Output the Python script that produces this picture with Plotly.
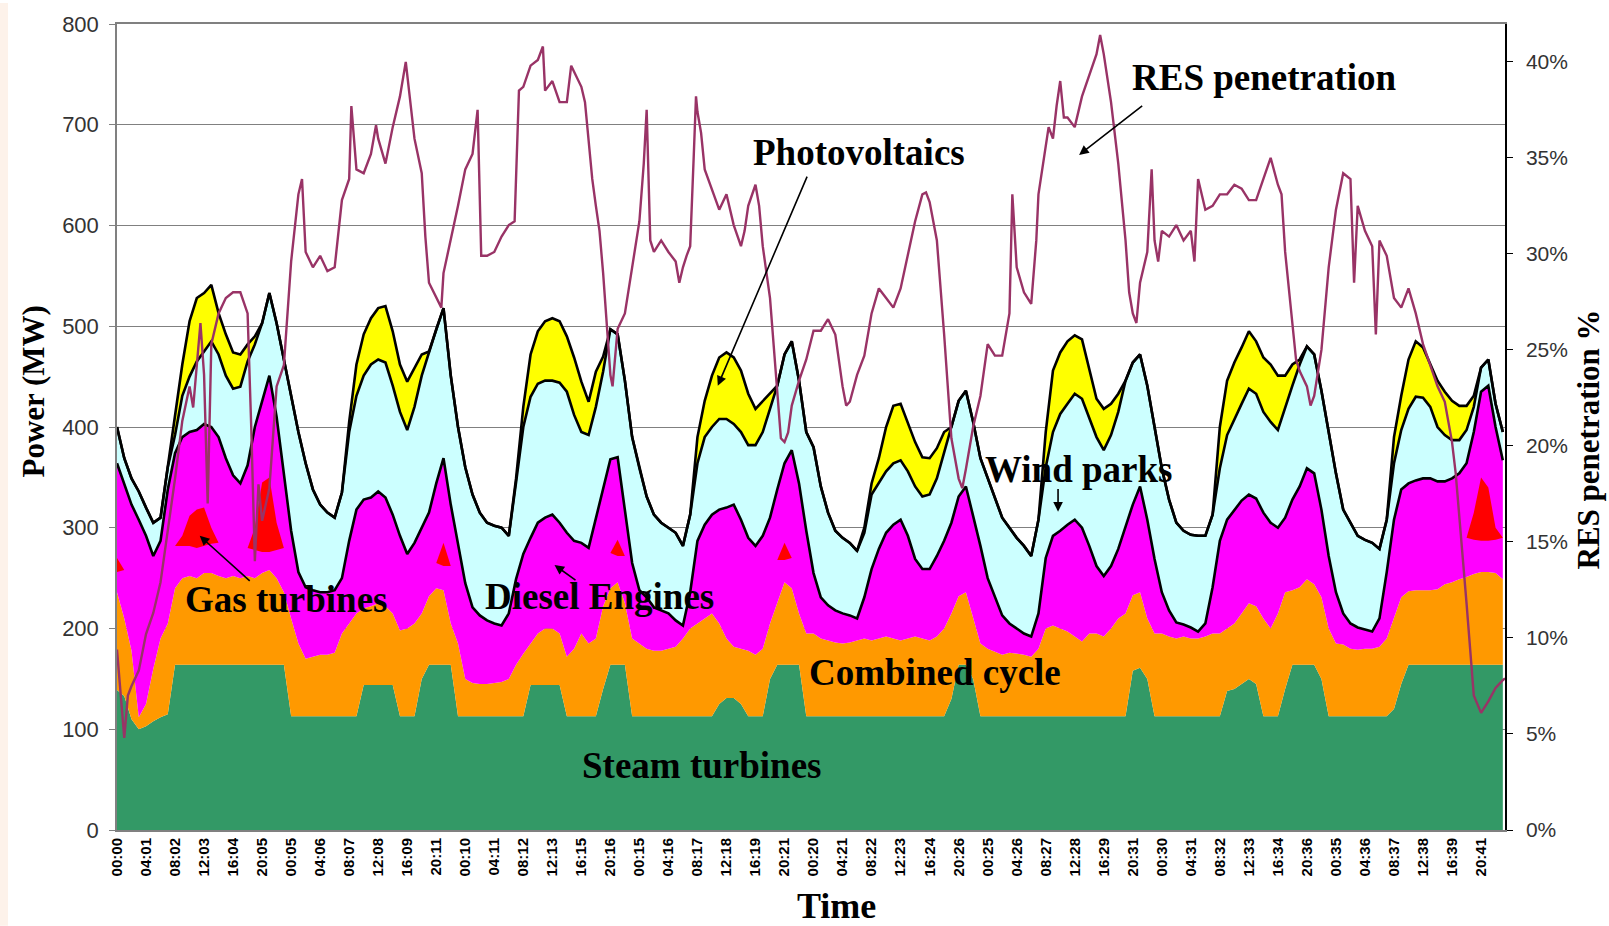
import plotly.graph_objects as go

# ---- time axis (hours from start, hourly samples) ----
hours = list(range(192))
tick_hours = list(range(0, 189, 4))
tick_labels = ["00:00", "04:01", "08:02", "12:03", "16:04", "20:05", "00:05", "04:06",
               "08:07", "12:08", "16:09", "20:11", "00:10", "04:11", "08:12", "12:13",
               "16:15", "20:16", "00:15", "04:16", "08:17", "12:18", "16:19", "20:21",
               "00:20", "04:21", "08:22", "12:23", "16:24", "20:26", "00:25", "04:26",
               "08:27", "12:28", "16:29", "20:31", "00:30", "04:31", "08:32", "12:33",
               "16:34", "20:36", "00:35", "04:36", "08:37", "12:38", "16:39", "20:41"]

# ---- cumulative generation levels (MW), top edge of each layer ----
steam_top = [
    139, 133, 110, 100, 103, 108, 112, 115, 164, 164, 164, 164, 164, 164, 164, 164, 164, 164, 164, 164, 164, 164, 164, 164,
    113, 113, 113, 113, 113, 113, 113, 113, 113, 113, 144, 144, 144, 144, 144, 113, 113, 113, 150, 164, 164, 164, 164, 113,
    113, 113, 113, 113, 113, 113, 113, 113, 113, 144, 144, 144, 144, 144, 113, 113, 113, 113, 113, 140, 164, 164, 164, 113,
    113, 113, 113, 113, 113, 113, 113, 113, 113, 113, 113, 125, 131, 131, 125, 113, 113, 113, 150, 164, 164, 164, 164, 113,
    113, 113, 113, 113, 113, 113, 113, 113, 113, 113, 113, 113, 113, 113, 113, 113, 113, 113, 113, 130, 164, 164, 150, 113,
    113, 113, 113, 113, 113, 113, 113, 113, 113, 113, 113, 113, 113, 113, 113, 113, 113, 113, 113, 113, 158, 161, 150, 113,
    113, 113, 113, 113, 113, 113, 113, 113, 113, 138, 140, 145, 150, 145, 113, 113, 113, 140, 164, 164, 164, 164, 150, 113,
    113, 113, 113, 113, 113, 113, 113, 113, 120, 145, 164, 164, 164, 164, 164, 164, 164, 164, 164, 164, 164, 164, 164, 164]

cc_top = [
    236, 210, 178, 112, 125, 160, 190, 205, 240, 250, 252, 250, 255, 255, 252, 250, 252, 250, 252, 250, 255, 258, 250, 236,
    210, 185, 170, 172, 174, 174, 176, 195, 205, 215, 220, 222, 225, 222, 215, 198, 200, 205, 215, 232, 240, 238, 205, 185,
    150, 146, 145, 145, 146, 147, 150, 164, 175, 185, 195, 200, 200, 195, 172, 180, 195, 185, 190, 222, 240, 246, 225, 190,
    185, 180, 178, 178, 180, 182, 190, 200, 205, 210, 215, 205, 190, 182, 180, 178, 174, 180, 205, 226, 246, 240, 215, 195,
    195, 190, 188, 186, 185, 186, 188, 190, 188, 190, 192, 190, 188, 190, 192, 190, 188, 192, 200, 215, 232, 236, 210, 185,
    180, 177, 174, 176, 175, 174, 172, 180, 200, 203, 200, 197, 192, 187, 195, 195, 192, 200, 210, 215, 233, 236, 210, 195,
    195, 192, 190, 192, 190, 190, 192, 195, 195, 200, 205, 215, 225, 222, 210, 200, 215, 236, 238, 241, 249, 244, 231, 200,
    185, 184, 180, 179, 180, 180, 182, 190, 210, 231, 237, 238, 238, 238, 239, 244, 246, 249, 251, 254, 256, 256, 255, 249]

diesel_top = [
    364, 344, 323, 308, 292, 272, 287, 338, 374, 390, 395, 397, 403, 400, 390, 369, 352, 344, 362, 400, 426, 451, 410, 354,
    297, 256, 241, 238, 236, 236, 238, 250, 287, 318, 328, 330, 336, 330, 313, 292, 274, 285, 300, 315, 344, 369, 323, 285,
    245, 221, 213, 208, 205, 203, 215, 249, 274, 290, 305, 310, 313, 305, 295, 287, 285, 280, 310, 340, 368, 370, 320, 265,
    238, 231, 221, 218, 215, 208, 203, 236, 287, 303, 313, 318, 320, 323, 308, 290, 282, 292, 310, 338, 364, 377, 344, 297,
    255, 231, 223, 218, 215, 213, 210, 231, 259, 279, 295, 303, 308, 292, 269, 259, 259, 272, 287, 305, 331, 341, 313, 282,
    250, 231, 213, 205, 200, 195, 192, 215, 270, 292, 297, 303, 308, 300, 282, 262, 252, 262, 279, 300, 323, 341, 308, 269,
    236, 218, 206, 204, 201, 197, 205, 241, 287, 308, 318, 327, 333, 329, 315, 305, 300, 310, 328, 341, 359, 354, 318, 272,
    236, 215, 205, 201, 199, 197, 210, 256, 308, 338, 344, 347, 349, 349, 346, 346, 349, 354, 364, 395, 435, 441, 400, 367]

wind_top = [
    400, 369, 349, 336, 320, 305, 310, 360, 392, 431, 450, 465, 475, 485, 472, 451, 438, 440, 465, 482, 503, 533, 503, 467,
    431, 395, 364, 338, 323, 315, 310, 335, 395, 431, 451, 462, 467, 464, 441, 415, 397, 420, 451, 475, 497, 518, 451, 400,
    360, 333, 315, 305, 302, 300, 292, 345, 400, 430, 443, 446, 446, 444, 435, 412, 395, 392, 420, 455, 497, 492, 446, 390,
    359, 331, 313, 305, 300, 295, 282, 313, 364, 390, 400, 408, 408, 403, 395, 382, 382, 395, 418, 441, 472, 485, 446, 395,
    380, 341, 315, 297, 290, 285, 277, 295, 333, 344, 356, 364, 367, 356, 341, 331, 333, 349, 374, 400, 426, 436, 405, 369,
    349, 331, 310, 300, 290, 282, 272, 308, 360, 395, 413, 423, 433, 428, 410, 390, 377, 392, 415, 446, 464, 472, 441, 400,
    359, 328, 305, 297, 293, 292, 292, 313, 359, 392, 408, 423, 438, 433, 415, 405, 397, 420, 441, 462, 480, 472, 436, 395,
    354, 318, 305, 292, 288, 285, 279, 308, 364, 397, 418, 430, 429, 420, 400, 392, 387, 387, 397, 420, 459, 467, 423, 395]

pv_top = [
    400, 369, 349, 336, 320, 305, 310, 360, 410, 462, 505, 528, 533, 541, 513, 492, 474, 472, 482, 490, 503, 533, 503, 467,
    431, 395, 364, 338, 323, 315, 310, 335, 405, 462, 492, 508, 518, 520, 495, 462, 445, 459, 472, 475, 497, 518, 451, 400,
    360, 333, 315, 305, 302, 300, 292, 349, 420, 472, 495, 505, 508, 505, 490, 469, 445, 425, 455, 470, 497, 492, 446, 390,
    359, 331, 313, 305, 300, 295, 282, 313, 390, 426, 451, 469, 474, 469, 456, 433, 418, 426, 433, 441, 472, 485, 446, 395,
    380, 341, 315, 297, 290, 285, 277, 300, 344, 369, 400, 421, 423, 405, 385, 370, 369, 379, 395, 400, 426, 436, 405, 369,
    349, 331, 310, 300, 290, 282, 272, 308, 395, 456, 474, 485, 491, 487, 456, 428, 418, 423, 433, 446, 464, 472, 441, 400,
    359, 328, 305, 297, 293, 292, 292, 313, 400, 446, 464, 479, 495, 485, 469, 462, 451, 451, 462, 467, 480, 472, 436, 395,
    354, 318, 305, 292, 288, 285, 279, 308, 390, 431, 467, 485, 479, 462, 446, 435, 426, 421, 421, 431, 459, 467, 423, 395]

# gas turbine output, drawn as a band inside the diesel layer (MW levels)
gas_hours = [0, 1, 8, 9, 10, 11, 12, 13, 14, 18, 19, 20, 21, 22, 23, 44, 45, 46,
             68, 69, 70, 91, 92, 93, 186, 187, 188, 189, 190, 191]
gas_low = [256, 258, 282, 282, 282, 280, 282, 284, 285, 280, 278, 276, 276, 278, 280, 265, 262, 262,
           275, 272, 272, 268, 268, 270, 290, 288, 287, 287, 288, 290]
gas_high = [270, 258, 282, 292, 312, 318, 320, 300, 285, 280, 300, 345, 350, 305, 280, 265, 285, 262,
            275, 288, 272, 268, 285, 270, 290, 315, 350, 340, 300, 290]

# ---- RES penetration (%) ----
res_hours = [0, 0.5, 1, 1.5, 2, 3, 4, 5, 6, 7, 8, 9, 10, 10.5, 11, 11.5, 12, 12.5, 13, 14, 15, 16, 17, 18,
             18.5, 19, 19.5, 20, 21, 22, 23, 24, 25, 25.5, 26, 27, 28, 29, 30, 31, 32, 32.3, 33, 34, 35,
             35.7, 36, 37, 38, 38.7, 39, 39.8, 40, 40.5, 41, 42, 42.5, 43, 44, 44.7, 45, 46, 47, 48, 49,
             49.7, 50.2, 51, 52, 53, 54, 54.8, 55.4, 56, 57, 58, 58.7, 59, 60, 61, 62, 62.6, 63, 64, 64.5,
             65, 65.5, 66, 66.5, 67, 67.5, 68, 68.3, 69, 70, 70.5, 71, 72, 72.6, 73, 73.5, 74, 75, 76, 77,
             77.5, 78, 78.5, 79, 79.5, 79.8, 80, 80.5, 81, 82, 83, 84, 85, 86, 86.5, 87, 88, 88.5, 89, 90,
             90.5, 91, 91.5, 92, 92.5, 93, 94, 95, 96, 97, 98, 99, 100, 100.5, 101, 102, 103, 104, 105,
             106, 107, 108, 109, 110, 111, 111.5, 112, 113, 114, 115, 116, 116.5, 117, 118, 119, 120, 121,
             122, 123, 123.4, 124, 125, 126, 126.7, 127, 128, 128.4, 129, 129.5, 130, 130.5, 131, 132, 133,
             134, 135, 135.5, 136, 137, 138, 139, 139.5, 140, 140.5, 141, 142, 142.6, 143, 143.5, 144, 145,
             146, 147, 148, 148.5, 149, 150, 151, 152, 153, 154, 155, 156, 157, 158, 159, 160, 160.5, 161,
             162, 162.5, 163, 164, 164.5, 165, 166, 167, 168, 169, 170, 170.5, 171, 172, 173, 173.5, 174,
             175, 176, 177, 178, 179, 180, 181, 182, 183, 184, 184.5, 185, 186, 187, 188, 189, 190, 191, 191.3]
res_pct = [9.4, 7.3, 4.8, 7.0, 7.5, 8.3, 10.2, 11.3, 12.9, 15.6, 18.3, 21.3, 23.1, 22.0, 24.2, 26.4, 23.7, 17.0,
           25.3, 26.9, 27.7, 28.0, 28.0, 26.9, 21.0, 14.0, 18.0, 16.1, 17.8, 23.1, 24.2, 29.6, 33.1, 33.9, 30.1,
           29.3, 29.9, 29.1, 29.3, 32.8, 33.9, 37.7, 34.4, 34.2, 35.2, 36.7, 36.0, 34.7, 36.6, 37.7, 38.2, 40.0,
           39.3, 37.9, 36.0, 34.2, 30.9, 28.5, 27.7, 27.2, 29.0, 30.7, 32.5, 34.4, 35.2, 37.5, 29.9, 29.9, 30.1,
           30.9, 31.5, 31.7, 38.5, 38.7, 39.8, 40.1, 40.8, 38.5, 39.0, 37.9, 37.9, 39.8, 39.5, 38.7, 37.9, 36.0,
           33.9, 32.5, 31.2, 29.0, 26.4, 23.7, 23.1, 26.1, 26.9, 28.0, 29.3, 31.7, 34.7, 37.5, 30.7, 30.1, 30.7,
           30.1, 29.6, 28.5, 29.3, 29.9, 30.4, 35.2, 38.2, 37.4, 36.3, 34.4, 33.4, 32.3, 33.1, 31.5, 30.4, 31.2,
           32.5, 33.6, 32.5, 30.4, 27.7, 25.3, 22.6, 20.4, 20.2, 20.7, 22.1, 23.4, 24.5, 26.0, 26.0, 26.6, 25.8,
           23.1, 22.1, 22.3, 23.7, 24.7, 26.9, 28.2, 27.7, 27.2, 28.2, 29.9, 31.7, 33.1, 33.2, 32.7, 30.7, 25.8,
           20.4, 18.3, 17.8, 18.8, 21.0, 22.6, 25.3, 24.7, 24.7, 26.9, 33.1, 29.3, 28.0, 27.4, 30.7, 33.1, 35.5,
           36.6, 36.0, 37.7, 39.0, 37.1, 37.1, 36.6, 38.2, 39.3, 40.4, 41.4, 40.4, 37.9, 34.7, 30.7, 28.0, 26.9,
           26.4, 28.5, 30.1, 34.4, 30.7, 29.6, 31.2, 30.9, 31.5, 30.7, 31.2, 29.6, 33.9, 32.3, 32.5, 33.1, 33.1,
           33.6, 33.4, 32.8, 32.8, 33.9, 35.0, 33.6, 33.1, 30.1, 26.4, 24.5, 23.9, 23.1, 22.1, 22.6, 25.0, 29.3,
           32.3, 34.2, 33.9, 28.5, 32.5, 31.2, 30.4, 25.8, 30.7, 29.9, 27.7, 27.2, 28.2, 26.9, 25.3, 24.2, 23.1,
           22.3, 20.2, 18.6, 16.4, 11.8, 7.0, 6.1, 6.7, 7.4, 7.8, 7.9]

for arr in (steam_top, cc_top, diesel_top, wind_top, pv_top):
    assert len(arr) == len(hours)
assert len(res_hours) == len(res_pct)

SERIF = "Liberation Serif"
SANS = "Liberation Sans"

fig = go.Figure()

layers = [
    ("Steam turbines", steam_top, "#339966", "tozeroy", 0, "#339966"),
    ("Combined cycle", cc_top, "#FF9900", "tonexty", 0, "#FF9900"),
    ("Diesel Engines", diesel_top, "#FF00FF", "tonexty", 2.6, "black"),
    ("Wind parks", wind_top, "#CCFFFF", "tonexty", 2.6, "black"),
    ("Photovoltaics", pv_top, "#FFFF00", "tonexty", 2.6, "black"),
]
for name, ys, fillc, fillmode, lw, lc in layers:
    fig.add_trace(go.Scatter(
        x=hours, y=ys, name=name, mode="lines", fill=fillmode, fillcolor=fillc,
        line=dict(color=lc, width=lw), hoverinfo="skip", showlegend=False))

# gas turbine bands: split into contiguous hourly runs
runs, cur = [], []
for h, lo, hi in zip(gas_hours, gas_low, gas_high):
    if cur and h != cur[-1][0] + 1:
        runs.append(cur)
        cur = []
    cur.append((h, lo, hi))
if cur:
    runs.append(cur)
for run in runs:
    xs = [r[0] for r in run]
    fig.add_trace(go.Scatter(x=xs, y=[r[1] for r in run], mode="lines",
                             line=dict(width=0, color="#FF0000"), hoverinfo="skip", showlegend=False))
    fig.add_trace(go.Scatter(x=xs, y=[r[2] for r in run], mode="lines", fill="tonexty",
                             fillcolor="#FF0000", line=dict(width=0, color="#FF0000"),
                             name="Gas turbines", hoverinfo="skip", showlegend=False))

fig.add_trace(go.Scatter(x=res_hours, y=res_pct, yaxis="y2", mode="lines", name="RES penetration",
                         line=dict(color="#993366", width=2.4), hoverinfo="skip", showlegend=False))

label_font = dict(family=SERIF, size=37, color="black")
texts = [
    ("RES penetration", 158.1, 747),
    ("Photovoltaics", 102.2, 672),
    ("Wind parks", 132.6, 358),
    ("Gas turbines", 23.3, 229),
    ("Diesel Engines", 66.5, 232),
    ("Combined cycle", 112.8, 156),
    ("Steam turbines", 80.6, 64),
]
for t, x, y in texts:
    fig.add_annotation(x=x, y=y, xref="x", yref="y", text="<b>%s</b>" % t, showarrow=False,
                       font=label_font, xanchor="center", yanchor="middle")

arrows = [
    (132.6, 670, 141.5, 720),
    (82.8, 441, 95.2, 650),
    (129.7, 316, 129.7, 340),
    (11.4, 292, 18.5, 246),
    (60.3, 263, 63.4, 247),
]
for x, y, ax, ay in arrows:
    fig.add_annotation(x=x, y=y, ax=ax, ay=ay, xref="x", yref="y", axref="x", ayref="y",
                       text="", showarrow=True, arrowhead=2, arrowsize=1.2, arrowwidth=1.6,
                       arrowcolor="black", standoff=0, startstandoff=0)

title_font = dict(family=SERIF, size=31, color="black")
fig.add_annotation(x=-0.0598, y=0.544, xref="paper", yref="paper", text="<b>Power (MW)</b>",
                   textangle=-90, showarrow=False, font=title_font,
                   xanchor="center", yanchor="middle")
fig.add_annotation(x=1.0598, y=0.4845, xref="paper", yref="paper", text="<b>RES penetration %</b>",
                   textangle=-90, showarrow=False, font=title_font,
                   xanchor="center", yanchor="middle")
fig.add_annotation(x=0.5187, y=-0.094, xref="paper", yref="paper", text="<b>Time</b>",
                   showarrow=False, font=dict(family=SERIF, size=36, color="black"),
                   xanchor="center", yanchor="middle")

# faint tinted strip along the left page edge
fig.add_shape(type="rect", xref="paper", yref="paper",
              x0=-117 / 1388, x1=-109 / 1388, y0=-96 / 809, y1=1 + 21 / 809,
              fillcolor="#FDF2EA", line=dict(width=0), layer="below")

fig.update_layout(
    width=1609, height=926,
    margin=dict(l=117, r=104, t=21, b=96),
    paper_bgcolor="white", plot_bgcolor="white",
    xaxis=dict(range=[0, 191.3], tickmode="array", tickvals=tick_hours, ticktext=tick_labels,
               tickangle=-90, tickfont=dict(family=SANS, size=15, color="black", weight="bold"),
               showgrid=False, zeroline=False, showline=True, linecolor="#808080", linewidth=2,
               mirror=True, ticks=""),
    yaxis=dict(range=[0, 800], dtick=100, showgrid=True, gridcolor="#808080", gridwidth=1,
               zeroline=False, showline=True, linecolor="#808080", linewidth=1.5,
               ticks="outside", ticklen=6, tickcolor="#808080", ticklabelstandoff=6,
               tickfont=dict(family=SANS, size=22, color="#333333")),
    yaxis2=dict(range=[0, 41.97], dtick=5, ticksuffix="%", overlaying="y", side="right",
                showgrid=False, zeroline=False, showline=True, linecolor="black", linewidth=1.5,
                ticks="outside", ticklen=6, tickcolor="black", ticklabelstandoff=9,
                tickfont=dict(family=SANS, size=21, color="#333333")),
)

fig.write_html("out.html")
